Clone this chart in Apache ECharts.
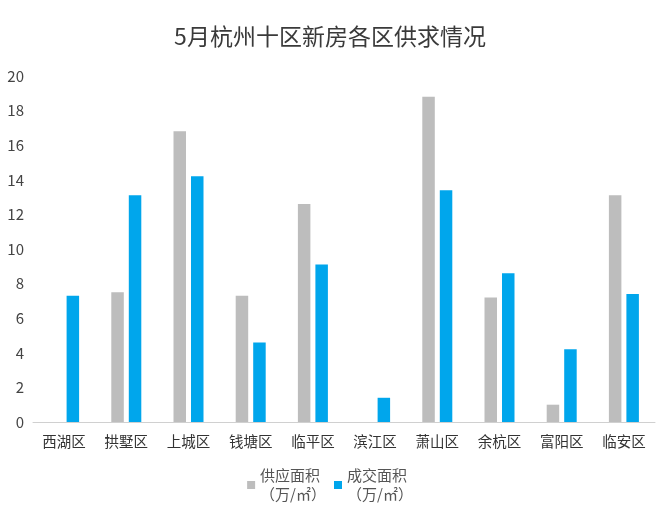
<!DOCTYPE html>
<html>
<head>
<meta charset="utf-8">
<script src="https://cdn.jsdelivr.net/npm/echarts@6/dist/echarts.min.js"></script>
<style>html,body{margin:0;padding:0;background:#fff}#c{width:660px;height:517px}</style>
</head>
<body>
<div id="c"></div>
<script>
const categories = ['西湖区','拱墅区','上城区','钱塘区','临平区','滨江区','萧山区','余杭区','富阳区','临安区'];
const supplyName = '供应面积\n（万/㎡）';
const dealName = '成交面积\n（万/㎡）';
const supply = [0, 7.5, 16.8, 7.3, 12.6, 0, 18.8, 7.2, 1.0, 13.1];
const deal = [7.3, 13.1, 14.2, 4.6, 9.1, 1.4, 13.4, 8.6, 4.2, 7.4];
const yTicks = {min: 0, max: 20, interval: 2};

const font = '"Noto Sans CJK SC", "Noto Sans", sans-serif';
const chart = echarts.init(document.getElementById('c'), null, {renderer: 'canvas'});
chart.setOption({
  backgroundColor: '#ffffff',
  animation: false,
  title: {
    text: '5月杭州十区新房各区供求情况',
    left: 'center',
    top: 20,
    textStyle: {fontFamily: font, fontSize: 23, fontWeight: 'normal', color: '#3a3a3a'}
  },
  legend: {
    bottom: 8,
    left: 'center',
    itemWidth: 8,
    itemHeight: 8,
    itemGap: 8,
    icon: 'rect',
    data: [supplyName, dealName],
    textStyle: {fontFamily: font, fontSize: 15, color: '#555', lineHeight: 19}
  },
  grid: {left: 33, right: 5, top: 76, bottom: 95},
  xAxis: {
    type: 'category',
    data: categories,
    axisLine: {lineStyle: {color: '#d0d0d0'}},
    axisTick: {show: false},
    axisLabel: {fontFamily: font, fontSize: 14.5, color: '#333', margin: 12, interval: 0}
  },
  yAxis: {
    type: 'value',
    min: yTicks.min, max: yTicks.max, interval: yTicks.interval,
    splitLine: {show: false},
    axisLine: {show: false},
    axisTick: {show: false},
    axisLabel: {fontFamily: font, fontSize: 15, color: '#444', margin: 9}
  },
  series: [
    {name: supplyName, type: 'bar', data: supply, barWidth: 12.5, barGap: '40%',
     itemStyle: {color: '#bdbdbd'}},
    {name: dealName, type: 'bar', data: deal, barWidth: 12.5,
     itemStyle: {color: '#00a6ec'}}
  ]
});
</script>
</body>
</html>
